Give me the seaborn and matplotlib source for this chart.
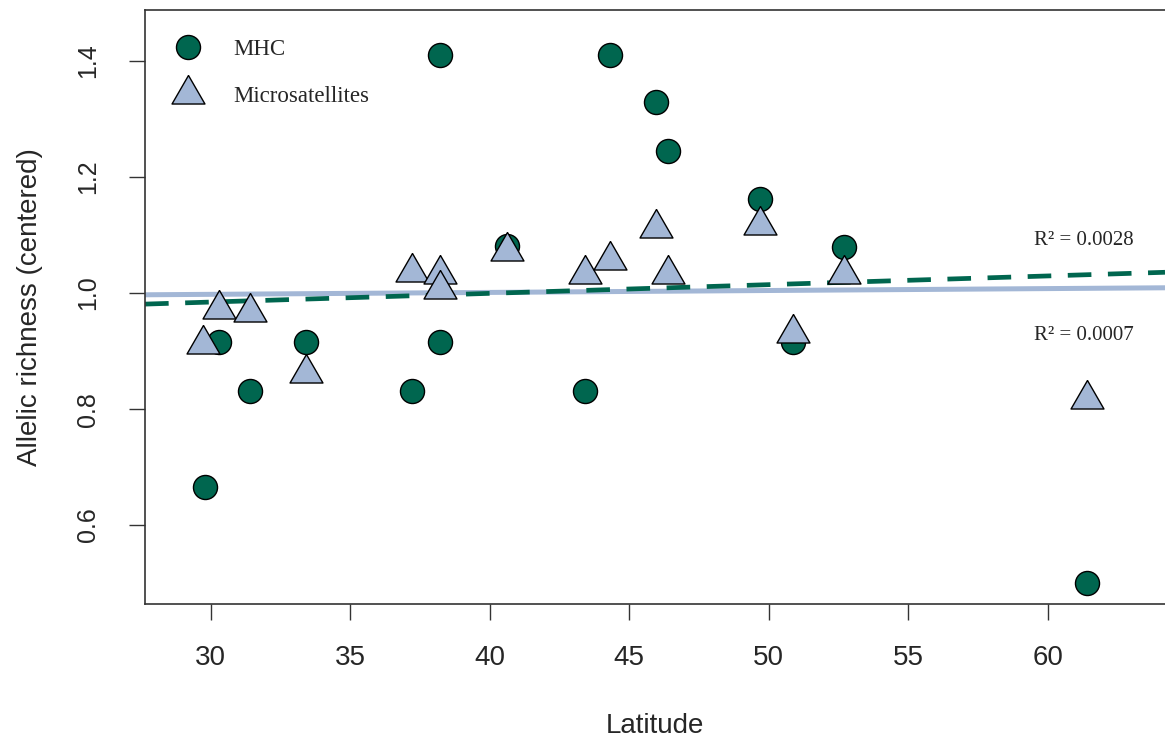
import numpy as np
import pandas as pd
import matplotlib
matplotlib.use("Agg")
import matplotlib.pyplot as plt
from matplotlib.lines import Line2D
import seaborn as sns

# data
mhc_lat = [29.8, 30.3, 31.4, 33.4, 37.2, 38.2, 38.2, 40.6, 43.4, 44.3, 45.95, 46.4, 49.7, 50.85, 52.7, 61.4]
mhc_ar = [0.665, 0.915, 0.831, 0.915, 0.831, 1.41, 0.915, 1.081, 0.831, 1.41, 1.33, 1.245, 1.162, 0.915, 1.08, 0.50]

msat_lat = [29.7, 30.3, 31.4, 33.4, 37.2, 38.2, 38.2, 40.6, 43.4, 44.3, 45.95, 46.4, 49.7, 50.85, 52.7, 61.4]
msat_ar = [0.912, 0.972, 0.967, 0.862, 1.037, 1.032, 1.007, 1.072, 1.032, 1.057, 1.112, 1.032, 1.117, 0.932, 1.032, 0.817]

# fitted lines (intercept, slope)
mhc_fit = (0.9395, 0.0015)
msat_fit = (0.9879, 0.00033)
r2_labels = ["R\u00b2 = 0.0028", "R\u00b2 = 0.0007"]

green = "#00664f"
blue = "#a3b7d6"
# R-style triangle, centred on its centroid
tri = [(0, 1), (-0.866, -0.5), (0.866, -0.5), (0, 1)]

sns.set_style("ticks")
plt.rcParams['font.family'] = ['Liberation Sans', 'DejaVu Sans']

mhc = pd.DataFrame({'lat': mhc_lat, 'ar': mhc_ar})
msat = pd.DataFrame({'lat': msat_lat, 'ar': msat_ar})

fig = plt.figure(figsize=(11.65, 7.45), dpi=100)
ax = fig.add_axes([0.1245, 0.1893, 0.8755, 0.7973])

xlim = (27.64, 64.2)
xs = np.array(xlim)
ax.plot(xs, msat_fit[0] + msat_fit[1] * xs, color=blue, lw=3.6, solid_capstyle='butt', zorder=1)
ax.plot(xs, mhc_fit[0] + mhc_fit[1] * xs, color=green, lw=3.4, dashes=(5, 3.5), zorder=1.5)

sns.scatterplot(data=mhc, x='lat', y='ar', ax=ax, marker='o', s=300, color=green,
                edgecolor='black', linewidth=1, zorder=2)
sns.scatterplot(data=msat, x='lat', y='ar', ax=ax, marker=tri, s=750, color=blue,
                edgecolor='black', linewidth=1, zorder=3)

ax.text(59.5, 1.0914, r2_labels[0], family='Liberation Serif', fontsize=15, va='center')
ax.text(59.5, 0.926, r2_labels[1], family='Liberation Serif', fontsize=15, va='center')

ax.set_xlim(*xlim)
ax.set_ylim(0.464, 1.488)
ax.set_xticks([30, 35, 40, 45, 50, 55, 60])
ax.set_yticks([0.6, 0.8, 1.0, 1.2, 1.4])
ax.set_yticklabels(['0.6', '0.8', '1.0', '1.2', '1.4'], rotation=90, va='center')
ax.tick_params(axis='both', direction='out', length=11.5, width=1, color='#333333')
ax.tick_params(axis='x', labelsize=20, pad=18)
ax.tick_params(axis='y', labelsize=18, pad=21)
ax.set_xlabel('Latitude', fontsize=20)
ax.set_ylabel('Allelic richness (centered)', fontsize=20)
ax.xaxis.set_label_coords(0.5, -0.1835)
ax.yaxis.set_label_coords(-0.100, 0.5)
ax.spines['right'].set_visible(False)
for sp in ['left', 'bottom', 'top']:
    ax.spines[sp].set_color('#333333')
    ax.spines[sp].set_linewidth(1.2)

handles = [
    Line2D([], [], marker='o', ls='none', markersize=17.3, markerfacecolor=green, markeredgecolor='black'),
    Line2D([], [], marker=tri, ls='none', markersize=27.4, markerfacecolor=blue, markeredgecolor='black'),
]
ax.legend(handles, ['MHC', 'Microsatellites'], loc='upper left', bbox_to_anchor=(-0.001, 0.9866),
          frameon=False, prop={'family': 'Liberation Serif', 'size': 16.5},
          labelspacing=1.16, handletextpad=1.0, handlelength=2.0)

fig.savefig('out.png', dpi=100)
